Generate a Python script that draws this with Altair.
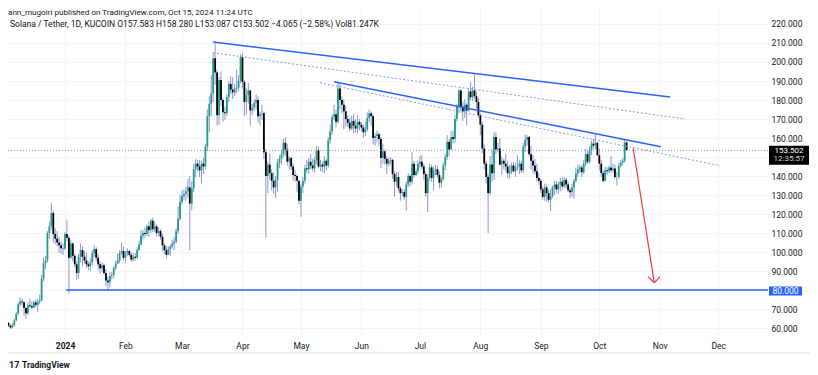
import altair as alt
import pandas as pd
import numpy as np

# ---------------- data (SOL/USDT daily, KuCoin) ----------------
start_date = "2023-12-01"
first_open = 59.0

close_dec = [59.6, 62.8, 61.2, 60.3, 61.5, 64.0, 67.5, 72.5, 74.0, 73.6,
             70.5, 67.8, 72.0, 71.5, 70.8, 73.5, 72.2, 73.8, 74.5, 86.0,
             94.0, 95.5, 110.0, 113.5, 120.5, 109.5, 107.0, 105.0, 103.5, 102.0, 101.8]
high_dec = [60.5, 63.5, 63.0, 62.0, 62.5, 65.0, 68.5, 73.5, 76.0, 75.5,
            74.0, 71.0, 73.5, 75.5, 74.0, 74.5, 75.0, 75.5, 77.5, 88.0,
            97.0, 98.0, 111.0, 116.0, 126.0, 122.0, 112.5, 111.0, 108.0, 105.5, 104.5]
low_dec = [58.5, 59.2, 60.5, 59.5, 59.8, 60.8, 63.5, 67.0, 71.5, 72.0,
           66.5, 65.0, 66.8, 70.5, 69.8, 70.5, 71.0, 68.5, 72.5, 74.0,
           84.5, 91.0, 94.5, 107.0, 112.0, 105.0, 104.0, 103.0, 99.5, 99.0, 98.5]

close_jan = [109.5, 107.5, 97.0, 104.5, 98.0, 93.5, 89.0, 97.5, 101.0, 97.5,
             95.5, 93.5, 92.5, 94.5, 99.5, 101.5, 97.0, 93.5, 91.5, 93.0,
             89.0, 85.0, 84.0, 87.5, 88.0, 91.5, 94.0, 95.5, 99.5, 100.5, 97.0]
high_jan = [110.5, 117.0, 108.5, 106.5, 105.0, 99.0, 95.0, 99.0, 104.5, 103.0,
            100.5, 99.5, 95.0, 96.5, 101.0, 103.5, 102.5, 99.0, 95.0, 94.5,
            94.0, 91.0, 87.0, 89.5, 89.5, 92.5, 95.5, 99.0, 101.0, 105.0, 103.0]
low_jan = [101.0, 105.5, 78.0, 96.5, 95.0, 92.0, 85.5, 86.0, 94.5, 92.5,
           94.0, 91.5, 90.5, 90.0, 93.0, 97.5, 95.0, 90.5, 88.5, 89.5,
           88.0, 82.0, 79.5, 81.5, 85.5, 86.0, 90.5, 93.5, 94.0, 98.5, 95.5]

close_feb = [99.5, 100.5, 98.5, 96.0, 97.5, 97.0, 101.0, 104.0, 108.5, 110.0,
             109.5, 113.5, 111.5, 116.5, 112.0, 113.5, 110.0, 111.0, 108.0, 103.5,
             101.0, 98.5, 101.5, 103.0, 104.5, 105.5, 111.0, 117.5, 126.5]
high_feb = [100.5, 102.0, 101.0, 99.5, 99.5, 99.5, 102.5, 106.0, 111.5, 111.5,
            113.0, 114.5, 116.0, 117.5, 118.0, 116.0, 114.5, 113.0, 112.0, 109.5,
            104.5, 103.0, 103.0, 104.0, 106.5, 108.0, 112.5, 124.0, 130.0]
low_feb = [94.5, 98.0, 97.5, 95.0, 95.0, 95.5, 96.5, 100.5, 103.5, 106.5,
           107.5, 108.5, 108.0, 110.0, 110.5, 110.5, 108.0, 108.5, 106.5, 100.5,
           99.0, 96.5, 98.5, 98.0, 102.0, 101.0, 104.5, 109.5, 116.5]

close_mar = [129.5, 130.5, 132.0, 134.0, 125.5, 133.5, 143.5, 146.5, 145.0, 143.0,
             146.5, 145.0, 155.5, 171.5, 178.0, 183.5, 202.0, 194.5, 172.0, 190.5,
             180.0, 173.5, 173.0, 181.5, 188.5, 185.5, 184.0, 186.0, 186.5, 190.0, 202.5]
high_mar = [132.5, 133.0, 134.5, 138.5, 140.0, 137.0, 146.5, 149.0, 148.5, 148.5,
            148.0, 149.5, 157.0, 175.0, 182.0, 193.0, 205.0, 210.5, 196.0, 192.0,
            195.0, 181.0, 176.5, 183.0, 190.0, 192.5, 192.0, 188.5, 196.0, 193.0, 204.0]
low_mar = [125.0, 127.5, 127.0, 128.5, 101.0, 122.0, 131.5, 139.5, 142.5, 139.5,
           136.0, 141.0, 143.5, 153.0, 163.0, 171.5, 179.0, 188.0, 166.5, 167.0,
           177.0, 168.5, 169.5, 171.5, 179.0, 183.0, 180.5, 182.0, 183.5, 184.5, 189.0]

close_apr = [189.5, 179.0, 182.5, 185.0, 174.5, 176.0, 178.5, 180.0, 171.5, 172.5,
             173.0, 152.5, 140.0, 146.0, 141.5, 137.5, 134.0, 138.0, 147.0, 149.0,
             151.5, 157.5, 154.0, 147.5, 149.5, 145.0, 140.5, 140.0, 137.5, 127.0]
high_apr = [204.5, 190.5, 186.0, 189.0, 185.5, 178.0, 180.5, 183.0, 182.0, 174.0,
            177.5, 174.0, 154.0, 147.5, 152.0, 143.5, 142.0, 140.0, 149.0, 151.0,
            154.0, 159.5, 160.5, 157.0, 150.5, 150.0, 146.5, 143.0, 141.0, 137.5]
low_apr = [186.0, 171.5, 172.5, 178.0, 166.5, 172.0, 174.0, 175.0, 168.0, 166.5,
           169.5, 149.0, 107.5, 131.0, 138.0, 132.5, 130.5, 128.5, 131.5, 144.0,
           146.0, 150.0, 150.5, 145.5, 143.5, 143.0, 137.5, 137.0, 131.5, 125.0]

close_may = [134.5, 137.5, 144.0, 143.5, 147.5, 145.5, 144.0, 148.5, 153.5, 145.0,
             146.0, 145.0, 148.0, 145.5, 159.0, 163.5, 171.0, 172.5, 168.5, 186.0,
             180.0, 177.5, 174.0, 170.0, 168.0, 165.0, 169.0, 166.5, 165.0, 168.5, 167.0]
high_may = [136.0, 139.5, 146.0, 148.5, 149.5, 151.5, 149.0, 150.0, 156.0, 155.5,
            148.5, 147.5, 150.5, 149.0, 160.5, 167.0, 172.5, 177.5, 175.0, 189.5,
            188.5, 182.0, 180.5, 177.0, 172.0, 170.5, 171.5, 172.5, 170.0, 172.0, 170.0]
low_may = [118.5, 131.0, 136.0, 141.5, 141.0, 143.5, 142.5, 141.5, 146.5, 144.0,
           142.5, 142.0, 141.5, 143.0, 144.5, 157.0, 161.5, 169.5, 165.5, 167.5,
           175.0, 173.0, 164.5, 166.0, 166.0, 163.5, 164.0, 162.5, 163.0, 162.5, 164.0]

close_jun = [165.5, 163.0, 164.5, 170.5, 173.0, 171.5, 160.0, 161.0, 162.0, 159.5,
             149.5, 153.0, 149.0, 146.5, 148.0, 148.5, 141.0, 137.0, 139.5, 133.5,
             131.0, 131.5, 129.0, 135.5, 140.0, 137.0, 146.5, 140.5, 142.5, 146.5]
high_jun = [168.5, 167.0, 168.5, 173.5, 175.0, 174.0, 172.5, 162.5, 164.0, 163.0,
            160.5, 157.0, 154.0, 150.5, 149.5, 150.0, 149.0, 142.5, 142.0, 142.0,
            134.5, 133.0, 133.0, 137.0, 141.5, 141.0, 152.5, 148.0, 144.0, 148.0]
low_jun = [163.5, 160.0, 161.0, 163.5, 168.5, 166.5, 156.5, 156.0, 158.0, 155.5,
           144.0, 146.5, 146.0, 141.0, 145.0, 146.0, 138.5, 129.0, 134.5, 132.0,
           127.0, 129.5, 127.5, 122.0, 134.0, 134.5, 135.5, 139.0, 140.0, 141.0]

close_jul = [147.5, 145.0, 141.0, 131.0, 139.0, 144.5, 139.0, 143.0, 143.5, 140.5,
             136.5, 138.5, 145.5, 150.0, 158.0, 154.0, 160.5, 159.5, 170.0, 176.5,
             185.0, 176.5, 174.0, 177.5, 174.5, 184.5, 181.5, 185.0, 182.0, 179.0, 172.0]
high_jul = [150.5, 151.0, 146.5, 142.5, 141.0, 146.5, 146.0, 145.0, 146.0, 145.5,
            142.5, 139.5, 147.0, 151.5, 161.5, 159.5, 163.5, 164.0, 172.0, 178.0,
            186.0, 185.5, 179.0, 180.5, 178.5, 186.0, 189.5, 187.0, 193.5, 184.5, 181.0]
low_jul = [144.5, 143.5, 138.0, 129.0, 121.0, 137.5, 137.0, 132.5, 140.5, 139.0,
           133.5, 133.5, 137.5, 143.0, 148.5, 150.5, 153.5, 157.0, 157.5, 168.5,
           173.0, 174.0, 169.0, 170.5, 166.5, 174.0, 180.0, 179.5, 180.5, 175.5, 170.5]

close_aug = [167.0, 154.5, 146.5, 139.5, 131.0, 146.0, 141.5, 160.5, 154.0, 154.5,
             146.0, 148.0, 146.5, 145.0, 141.5, 142.5, 145.5, 142.5, 144.5, 145.0,
             146.5, 143.0, 155.5, 159.0, 160.5, 151.5, 148.0, 145.5, 142.5, 139.0, 137.5]
high_aug = [173.0, 168.5, 156.5, 148.0, 141.0, 150.5, 154.0, 163.0, 163.0, 157.5,
            160.0, 150.0, 149.0, 151.5, 148.0, 146.0, 147.0, 147.5, 147.0, 151.0,
            148.5, 148.0, 157.5, 162.0, 161.5, 161.0, 156.0, 151.0, 149.0, 146.5, 141.5]
low_aug = [161.5, 152.0, 143.5, 136.0, 110.0, 130.0, 137.0, 138.0, 151.5, 152.5,
           145.5, 140.5, 143.5, 142.5, 139.0, 138.5, 141.0, 142.0, 139.5, 143.0,
           141.0, 141.5, 141.5, 152.5, 156.0, 150.5, 143.5, 141.5, 140.5, 137.0, 135.5]

close_sep = [133.0, 129.0, 134.0, 131.0, 127.5, 129.5, 134.0, 135.5, 133.0, 135.5,
             137.0, 134.5, 138.0, 135.5, 132.5, 131.5, 134.0, 137.5, 141.5, 143.5,
             144.5, 142.0, 146.5, 151.5, 147.5, 153.5, 157.0, 156.0, 157.5, 151.0]
high_sep = [138.5, 134.5, 136.0, 135.5, 133.0, 133.0, 135.0, 137.5, 137.5, 137.0,
            139.0, 139.5, 139.5, 139.0, 137.0, 134.0, 136.0, 138.5, 144.5, 146.0,
            146.0, 145.5, 148.5, 154.5, 153.0, 155.5, 158.5, 159.5, 162.0, 158.0]
low_sep = [131.0, 127.5, 127.0, 126.5, 126.0, 121.5, 128.5, 130.0, 131.0, 130.5,
           132.0, 132.5, 133.5, 133.5, 131.5, 128.5, 129.0, 128.0, 136.5, 139.5,
           141.5, 139.5, 141.0, 145.0, 146.0, 146.5, 151.0, 154.5, 154.0, 150.5]

close_oct = [146.5, 141.5, 137.5, 143.0, 142.5, 144.5, 143.0, 144.0, 139.5, 139.5,
             145.5, 147.0, 148.0, 157.583, 153.502]
high_oct = [154.5, 148.5, 143.0, 145.0, 144.5, 145.5, 150.5, 146.5, 146.0, 142.0,
            147.0, 148.5, 149.5, 159.0, 158.28]
low_oct = [143.0, 139.5, 136.5, 137.0, 140.5, 141.5, 141.5, 141.5, 138.5, 135.0,
           138.5, 144.5, 145.5, 147.0, 153.087]

# drawn trend lines (day offset from 2024-01-01, price)
solid_x1 = [75.9, 138.0]
solid_v1 = [210.5, 189.6]
solid_x2 = [310.3, 305.6]
solid_v2 = [181.6, 155.4]
dotted_x1 = [75.9, 130.8]
dotted_v1 = [204.9, 189.1]
dotted_x2 = [317.9, 335.9]
dotted_v2 = [170.0, 145.4]
support_level = 80.0
support_start = 0.5
arrow_x1 = [291.4, 299.1, 305.1]
arrow_v1 = [154.6, 87.0, 87.0]
arrow_x2 = [302.2, 302.2, 302.2]
arrow_v2 = [83.8, 83.8, 83.8]
last_price = 153.502
countdown = "12:35:57"

month_days = [0, 31, 60, 91, 121, 152, 182, 213, 244, 274, 305, 335]
month_labels = ["2024", "Feb", "Mar", "Apr", "May", "Jun", "Jul", "Aug", "Sep", "Oct", "Nov", "Dec"]
price_ticks = list(range(60, 230, 10))

header1 = "ann_mugoiri published on TradingView.com, Oct 15, 2024 11:24 UTC"
header2 = "Solana / Tether, 1D, KUCOIN  O157.583  H158.280  L153.087  C153.502  \u22124.065 (\u22122.58%)  Vol81.247K"

# ---------------- build table ----------------
closes = close_dec + close_jan + close_feb + close_mar + close_apr + close_may + close_jun + close_jul + close_aug + close_sep + close_oct
highs = high_dec + high_jan + high_feb + high_mar + high_apr + high_may + high_jun + high_jul + high_aug + high_sep + high_oct
lows = low_dec + low_jan + low_feb + low_mar + low_apr + low_may + low_jun + low_jul + low_aug + low_sep + low_oct
opens = [first_open] + closes[:-1]
dates = pd.date_range(start_date, periods=len(closes), freq="D")
days = (dates - pd.Timestamp("2024-01-01")).days
df = pd.DataFrame({"day": days, "open": opens, "high": highs, "low": lows, "close": closes})
df["dir"] = np.where(df["close"] >= df["open"], "up", "down")

W, H = 760, 327
x_domain = [-29.23, 360.51]
y_domain = [56.32, 228.42]
FONT = "Roboto"
TXT = "#131722"
GRID = "#f3f4f8"
BLUE = "#2962ff"

xs = alt.Scale(domain=x_domain, nice=False, zero=False, padding=0)
ys = alt.Scale(domain=y_domain, nice=False, zero=False, padding=0)

expr = "''"
for d, lab in reversed(list(zip(month_days, month_labels))):
    expr = f"datum.value == {d} ? '{lab}' : ({expr})"

x_axis = alt.Axis(values=month_days, labelExpr=expr, grid=True, gridColor=GRID, ticks=False,
                  domain=False, labelFont=FONT, labelFontSize=8.5, labelColor=TXT,
                  labelPadding=10, labelBaseline="middle", title=None,
                  labelFontWeight={"condition": {"test": "datum.value == 0", "value": "bold"}, "value": "normal"})
y_axis = alt.Axis(values=price_ticks, orient="right", grid=True, gridColor=GRID, ticks=False,
                  domain=False, labelFont=FONT, labelFontSize=8.5, labelColor=TXT,
                  labelAlign="left", labelPadding=3, title=None,
                  labelExpr="(datum.value == 80 || datum.value == 150) ? '' : format(datum.value, '.3f')")


def X(field):
    return alt.X(field, scale=xs, axis=x_axis)


def Y(field):
    return alt.Y(field, scale=ys, axis=y_axis)


wicks = alt.Chart(df).mark_rule(color="#8a96d8", strokeWidth=1, clip=True).encode(
    x=X("day:Q"), y=Y("low:Q"), y2="high:Q")
bodies = alt.Chart(df).mark_bar(size=1.8, clip=True).encode(
    x=X("day:Q"), y=Y("open:Q"), y2="close:Q",
    color=alt.Color("dir:N", scale=alt.Scale(domain=["up", "down"], range=["#1e9e86", "#000000"]), legend=None),
)

price_line = alt.Chart(pd.DataFrame({"p": [last_price]})).mark_rule(
    color="#9598a1", strokeDash=[1, 2], strokeWidth=1).encode(
    y=Y("p:Q"), x=alt.value(0), x2=alt.value(W))

solid = alt.Chart(pd.DataFrame({"x1": solid_x1, "v1": solid_v1, "x2": solid_x2, "v2": solid_v2})).mark_rule(
    color=BLUE, strokeWidth=1.5, clip=True).encode(
    x=X("x1:Q"), y=Y("v1:Q"), x2="x2:Q", y2="v2:Q")
dotted = alt.Chart(pd.DataFrame({"x1": dotted_x1, "v1": dotted_v1, "x2": dotted_x2, "v2": dotted_v2})).mark_rule(
    color="#7f9cf5", strokeWidth=1, strokeDash=[2, 2], clip=True).encode(
    x=X("x1:Q"), y=Y("v1:Q"), x2="x2:Q", y2="v2:Q")
support = alt.Chart(pd.DataFrame({"x1": [support_start], "x2": [x_domain[1]], "v": [support_level]})).mark_rule(
    color=BLUE, strokeWidth=1.5, clip=True).encode(
    x=X("x1:Q"), x2="x2:Q", y=Y("v:Q"))
arrow = alt.Chart(pd.DataFrame({"x1": arrow_x1, "v1": arrow_v1, "x2": arrow_x2, "v2": arrow_v2})).mark_rule(
    color="#f23645", strokeWidth=1.2, clip=True).encode(
    x=X("x1:Q"), y=Y("v1:Q"), x2="x2:Q", y2="v2:Q")

# price tags on the scale
tag_df = pd.DataFrame({"p": [last_price], "t": [f"{last_price:.3f}"], "c": [countdown]})
tag_box = alt.Chart(tag_df).mark_rect(color="#000000", yOffset=-4.5, y2Offset=14.5).encode(
    x=alt.value(761), x2=alt.value(801), y=Y("p:Q"), y2="p:Q")
tag_t1 = alt.Chart(tag_df).mark_text(color="white", font=FONT, fontSize=8, align="center", baseline="middle", dy=0.5).encode(
    x=alt.value(781), y=Y("p:Q"), text="t:N")
tag_t2 = alt.Chart(tag_df).mark_text(color="#d1d4dc", font=FONT, fontSize=8, align="center", baseline="middle", dy=9).encode(
    x=alt.value(781), y=Y("p:Q"), text="c:N")
sup_df = pd.DataFrame({"p": [support_level], "t": [f"{support_level:.3f}"]})
sup_box = alt.Chart(sup_df).mark_rect(color=BLUE, yOffset=-3.5, y2Offset=5.5).encode(
    x=alt.value(761), x2=alt.value(794), y=Y("p:Q"), y2="p:Q")
sup_txt = alt.Chart(sup_df).mark_text(color="white", font=FONT, fontSize=8.5, align="center", baseline="middle", dy=1).encode(
    x=alt.value(777.5), y=Y("p:Q"), text="t:N")

hdr1 = alt.Chart(pd.DataFrame({"t": [header1]})).mark_text(
    font=FONT, fontSize=8.1, color=TXT, align="left", baseline="top").encode(
    text="t:N", x=alt.value(0), y=alt.value(0.5))
hdr2 = alt.Chart(pd.DataFrame({"t": [header2]})).mark_text(
    font=FONT, fontSize=8.5, color=TXT, align="left", baseline="middle").encode(
    text="t:N", x=alt.value(2), y=alt.value(15.5))
logo = alt.Chart(pd.DataFrame({"t": ["TradingView"]})).mark_text(
    font=FONT, fontSize=8.5, fontWeight="bold", color=TXT, align="left", baseline="middle").encode(
    text="t:N", x=alt.value(14), y=alt.value(357))
logo_mark = alt.Chart(pd.DataFrame({"t": ["17"]})).mark_text(
    font=FONT, fontSize=9, fontWeight="bold", color=TXT, align="left", baseline="middle").encode(
    text="t:N", x=alt.value(1), y=alt.value(357))
frame = alt.Chart(pd.DataFrame({"k": ["b"]})).mark_rule(color="#e0e3eb", strokeWidth=1).encode(
    x=alt.value(0), x2=alt.value(802), y=alt.value(345))

chart = alt.layer(
    wicks, bodies, price_line, dotted, solid, support, arrow,
    tag_box, tag_t1, tag_t2, sup_box, sup_txt, hdr1, hdr2, logo, logo_mark, frame
).properties(
    width=W, height=H, autosize=alt.AutoSizeParams(type="none"),
    padding={"left": 0, "top": 0, "right": 42, "bottom": 40},
    background="white",
).configure_view(stroke=None)

chart.save("out.html", embed_options={"renderer": "svg", "actions": False})
